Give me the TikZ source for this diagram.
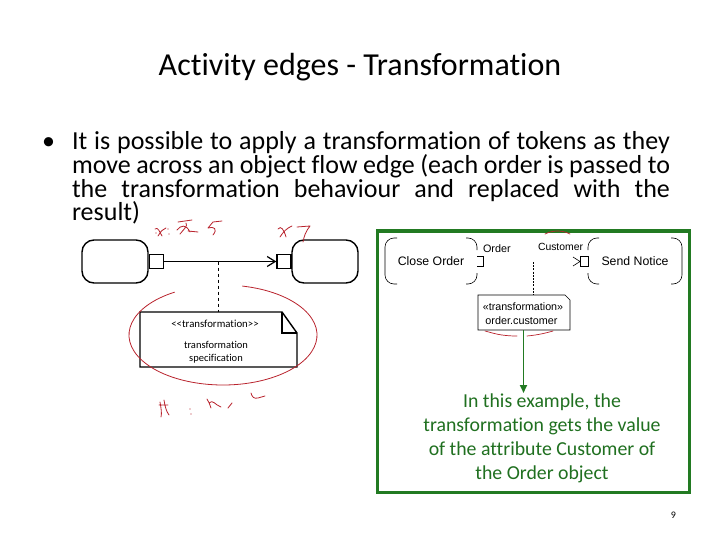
\documentclass[tikz,border=0pt]{standalone}
\usepackage{fontspec}
\setmainfont{Carlito}[Ligatures={NoCommon}]
\newfontfamily\arialf{Liberation Sans}
\usetikzlibrary{arrows.meta}
\definecolor{frameg}{RGB}{34,122,34}
\definecolor{textg}{RGB}{32,112,32}
\definecolor{inkred}{RGB}{185,35,45}
\begin{document}
\begin{tikzpicture}[x=1pt,y=-1pt,
  txt/.style={inner sep=0pt, outer sep=0pt},
  actbox/.style={draw, line width=1.4pt, rounded corners=12pt, minimum width=66pt, minimum height=43pt, inner sep=0pt},
  pinbox/.style={draw, line width=1.4pt, minimum size=14pt, inner sep=0pt},
  hand/.style={draw=inkred, line width=0.8pt, line cap=round, line join=round},
  thinline/.style={line width=0.6pt},
]
\useasboundingbox (0,0) rectangle (720,540);
\fill[white] (0,0) rectangle (720,540);

% title
\node[txt, anchor=base] (title) at (360,76) {\fontsize{32}{32}\selectfont Activity edges - Transformation};

% bullet text
\node[txt, anchor=base] (bul) at (48.5,150) {\fontsize{26}{26}\selectfont •};
\node[txt, anchor=base west] (l1) at (72,150) {\fontsize{26}{26}\selectfont\makebox[598pt][s]{It is possible to apply a transformation of tokens as they}};
\node[txt, anchor=base west] (l2) at (72,173.5) {\fontsize{26}{26}\selectfont\makebox[598pt][s]{move across an object flow edge (each order is passed to}};
\node[txt, anchor=base west] (l3) at (72,197) {\fontsize{26}{26}\selectfont\makebox[598pt][s]{the transformation behaviour and replaced with the}};
\node[txt, anchor=base west] (l4) at (72,220.5) {\fontsize{26}{26}\selectfont result)};

% ---------- left diagram ----------
\node[actbox] (a1) at (115,261.5) {};
\node[pinbox] (p1) at (156.5,261.5) {};
\node[actbox] (a2) at (325,261.5) {};
\node[pinbox] (p2) at (284,261.5) {};
\draw[line width=1.4pt, -{Straight Barb[length=8pt,width=10pt,line width=1.2pt]}] (p1.east) -- (p2.west);
\coordinate (mid) at (218,261.5);
\node[minimum width=157pt, minimum height=55pt, inner sep=0pt] (n1) at (218.5,339.5) {};
\draw[line width=1pt, dashed] (mid) -- (mid |- n1.north);
\draw[line width=1.4pt, line join=miter] (140,312) -- (282,312) -- (297,333) -- (297,367) -- (140,367) -- cycle;
\draw[line width=1.2pt] (282,312) -- (282,333) -- (297,333);
\node[txt] (n1a) at (215,323.5) {\fontsize{10.8}{10.8}\selectfont <{}<transformation>{}>};
\node[txt] (n1b) at (216,345) {\fontsize{10.5}{10.5}\selectfont transformation};
\node[txt] (n1c) at (216,359) {\fontsize{10.5}{10.5}\selectfont specification};

% red ellipse around the note
\draw[hand] (223,335) ++(121:94pt and 50pt) arc[start angle=121, end angle=438, x radius=94pt, y radius=50pt];

% handwriting top
\draw[hand] (155,229) .. controls (158,226) and (160,233) .. (162,236) (158,236) .. controls (161,231) and (163,229) .. (166,228);
\fill[inkred] (156,233) circle (0.7pt) (168,229) circle (0.7pt) (169,234) circle (0.7pt);
\draw[hand] (178,222) -- (192,220) (177,230) .. controls (181,225) and (186,224) .. (190,232) (180,234) .. controls (184,229) and (188,226) .. (186,223) (188,231) -- (198,232);
\draw[hand] (213,222) -- (208,228) .. controls (214,226) and (218,229) .. (213,235) (213,222) -- (222,221);
\draw[hand] (278,229) .. controls (281,225) and (284,230) .. (286,237) (280,237) .. controls (283,232) and (287,228) .. (292,226);
\draw[hand] (297,227) -- (310,226) .. controls (306,231) and (304,236) .. (303,242);

% handwriting bottom
\draw[hand] (160,402) .. controls (161,408) and (162,413) .. (161,417) (164,400) .. controls (165,406) and (166,411) .. (169,415) (159,405) -- (168,405);
\fill[inkred] (190,409) circle (0.7pt) (191,414) circle (0.7pt);
\draw[hand] (207,399) .. controls (209,402) and (210,405) .. (211,408) (209,403) .. controls (213,399) and (215,405) .. (221,407);
\draw[hand] (232,403) -- (228,408);
\draw[hand] (251,393) .. controls (252,397) and (254,399) .. (258,398) -- (265,396);

% ---------- right diagram ----------
\draw[frameg, line width=3pt] (377,231) rectangle (689,492);

% Close Order
\node[txt, minimum width=92pt, minimum height=46pt] (co) at (431,261) {\arialf\fontsize{12.3}{12.3}\selectfont Close Order};
\draw[thinline, rounded corners=9pt] (397,238) -- (385,238) -- (385,284) -- (397,284);
\draw[thinline, rounded corners=9pt] (466,238) -- (477,238) -- (477,250);
\draw[thinline, rounded corners=9pt] (477,273) -- (477,284) -- (466,284);
\draw[thinline] (477,256) -- (483,256) -- (483,266.5) -- (477,266.5);

% Send Notice
\node[txt, minimum width=94pt, minimum height=46pt] (sn) at (635,261) {\arialf\fontsize{12.3}{12.3}\selectfont Send Notice};
\draw[thinline, rounded corners=9pt] (599,238) -- (588,238) -- (588,250);
\draw[thinline, rounded corners=9pt] (588,273) -- (588,284) -- (599,284);
\draw[thinline, rounded corners=9pt] (671,238) -- (682,238) -- (682,284) -- (671,284);
\draw[thinline] (588,256) -- (580,256) -- (580,266.5) -- (588,266.5) -- cycle;
\draw[thinline] (573,257) -- (580,261.5) -- (573,266);

\node[txt, anchor=base west] (ol) at (483,252) {\arialf\fontsize{10.8}{10.8}\selectfont Order};
\node[txt, anchor=base west] (cl) at (538,250.5) {\arialf\fontsize{10.4}{10.4}\selectfont Customer};

% transformation note
\node[minimum width=92pt, minimum height=35pt, inner sep=0pt] (n2) at (524,312.5) {};
\coordinate (mid2) at (533,262);
\draw[thinline, dashed, dash pattern=on 2pt off 1.2pt] (mid2) -- (mid2 |- n2.north);
\draw[thinline] (478,295) -- (565,295) -- (570,300) -- (570,330) -- (478,330) -- cycle;
\node[txt, anchor=base] (n2a) at (523,310) {\arialf\fontsize{10.7}{10.7}\selectfont «transformation»};
\node[txt, anchor=base] (n2b) at (521.5,324.5) {\arialf\fontsize{10.8}{10.8}\selectfont order.customer};

% red marks around right note
\draw[hand, line width=0.7pt] (545,234) .. controls (553,230) and (562,230) .. (570,234);
\draw[hand, line width=0.7pt] (485,331) .. controls (493,333) and (500,336) .. (517,336);
\draw[hand, line width=0.7pt] (527,336) .. controls (538,335) and (546,333) .. (553,331);

% green arrow and explanation
\coordinate (ar) at (523.5,393);
\draw[frameg, line width=1.8pt, -{Triangle[length=8pt,width=7pt]}] (n2.south -| ar) -- (ar);
\node[txt, anchor=base, textg] (g1) at (542,407) {\fontsize{19.8}{19.8}\selectfont In this example, the};
\node[txt, anchor=base, textg] (g2) at (542,431) {\fontsize{19.8}{19.8}\selectfont transformation gets the value};
\node[txt, anchor=base, textg] (g3) at (542,455) {\fontsize{19.8}{19.8}\selectfont of the attribute Customer of};
\node[txt, anchor=base, textg] (g4) at (542,479) {\fontsize{19.8}{19.8}\selectfont the Order object};

% page number
\node[txt, anchor=base] (pg) at (673.5,518) {\fontsize{10}{10}\selectfont 9};
\end{tikzpicture}
\end{document}
